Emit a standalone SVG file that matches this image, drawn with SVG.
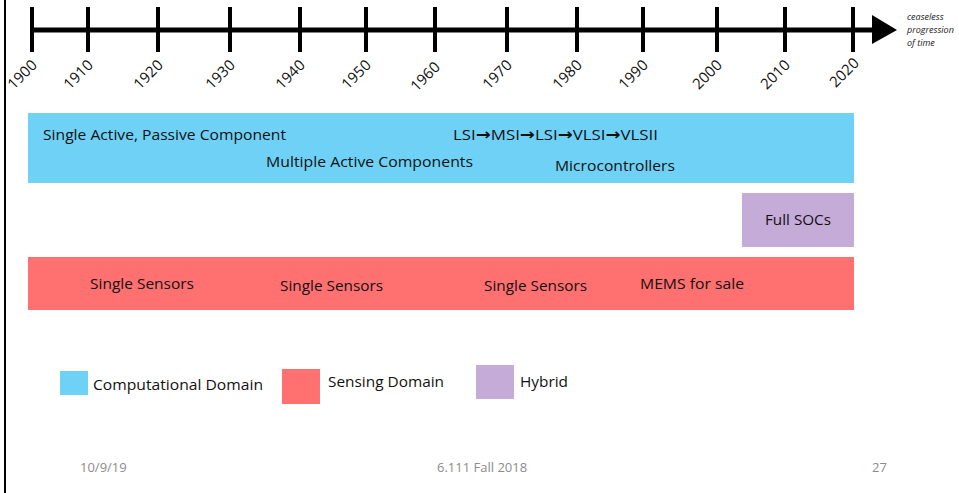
<svg xmlns="http://www.w3.org/2000/svg" width="959" height="493" viewBox="0 0 959 493">
<style>
.t{font-family:"Open Sans","Noto Sans","Liberation Sans",sans-serif;fill:#111;}
.lab{font-size:15px;}
.yr{font-size:15px;text-anchor:end;}
.ar{font-family:"DejaVu Sans",sans-serif;font-weight:bold;font-size:16px;}
.ft{font-family:"Open Sans","Noto Sans","Liberation Sans",sans-serif;font-size:13px;fill:#8c8c8c;}
.tick{stroke:#000;stroke-width:4;}
.it{font-family:"Open Sans","Noto Sans","Liberation Sans",sans-serif;font-size:9px;font-style:italic;fill:#222;}
</style>
<rect x="0" y="0" width="959" height="493" fill="#fff"/>
<line x1="5" y1="0" x2="5" y2="493" stroke="#000" stroke-width="2"/>
<g id="timeline">
<line x1="32" y1="30" x2="874" y2="30" stroke="#000" stroke-width="5"/>
<polygon points="872,15 897,30 872,44" fill="#000"/>
<line class="tick" x1="32" y1="7" x2="32" y2="52"/>
<line class="tick" x1="88" y1="7" x2="88" y2="52"/>
<line class="tick" x1="158" y1="7" x2="158" y2="52"/>
<line class="tick" x1="230" y1="7" x2="230" y2="52"/>
<line class="tick" x1="300" y1="7" x2="300" y2="52"/>
<line class="tick" x1="366" y1="7" x2="366" y2="52"/>
<line class="tick" x1="435" y1="7" x2="435" y2="52"/>
<line class="tick" x1="507" y1="7" x2="507" y2="52"/>
<line class="tick" x1="577" y1="7" x2="577" y2="52"/>
<line class="tick" x1="643" y1="7" x2="643" y2="52"/>
<line class="tick" x1="717" y1="7" x2="717" y2="52"/>
<line class="tick" x1="785" y1="7" x2="785" y2="52"/>
<line class="tick" x1="853" y1="7" x2="853" y2="52"/>
<text class="t yr" transform="translate(38,66) rotate(-45)">1900</text>
<text class="t yr" transform="translate(94,66) rotate(-45)">1910</text>
<text class="t yr" transform="translate(164,66) rotate(-45)">1920</text>
<text class="t yr" transform="translate(236,66) rotate(-45)">1930</text>
<text class="t yr" transform="translate(306,66) rotate(-45)">1940</text>
<text class="t yr" transform="translate(372,66) rotate(-45)">1950</text>
<text class="t yr" transform="translate(441,68) rotate(-45)">1960</text>
<text class="t yr" transform="translate(513,66) rotate(-45)">1970</text>
<text class="t yr" transform="translate(583,66) rotate(-45)">1980</text>
<text class="t yr" transform="translate(649,66) rotate(-45)">1990</text>
<text class="t yr" transform="translate(723,66) rotate(-45)">2000</text>
<text class="t yr" transform="translate(791,66) rotate(-45)">2010</text>
<text class="t yr" transform="translate(860,64) rotate(-45)">2020</text>
<text class="it" x="907" y="20">ceaseless</text>
<text class="it" x="907" y="33">progression</text>
<text class="it" x="907" y="46">of time</text>
</g>
<g id="computational">
<rect x="28" y="113" width="826" height="70" fill="#6fd1f6"/>
<text class="t lab" x="43" y="140" textLength="243" lengthAdjust="spacingAndGlyphs">Single Active, Passive Component</text>
<text class="t lab" x="266" y="167" textLength="207" lengthAdjust="spacingAndGlyphs">Multiple Active Components</text>
<text class="t lab" x="453" y="140" textLength="205" lengthAdjust="spacingAndGlyphs">LSI<tspan class="ar">→</tspan>MSI<tspan class="ar">→</tspan>LSI<tspan class="ar">→</tspan>VLSI<tspan class="ar">→</tspan>VLSII</text>
<text class="t lab" x="555" y="171" textLength="120" lengthAdjust="spacingAndGlyphs">Microcontrollers</text>
</g>
<g id="hybrid">
<rect x="742" y="193" width="112" height="54" fill="#c5abd8"/>
<text class="t lab" x="765" y="225" textLength="66" lengthAdjust="spacingAndGlyphs">Full SOCs</text>
</g>
<g id="sensing">
<rect x="28" y="257" width="826" height="53" fill="#ff7070"/>
<text class="t lab" x="90" y="289" textLength="104" lengthAdjust="spacingAndGlyphs">Single Sensors</text>
<text class="t lab" x="280" y="291" textLength="103" lengthAdjust="spacingAndGlyphs">Single Sensors</text>
<text class="t lab" x="484" y="291" textLength="103" lengthAdjust="spacingAndGlyphs">Single Sensors</text>
<text class="t lab" x="640" y="289" textLength="104" lengthAdjust="spacingAndGlyphs">MEMS for sale</text>
</g>
<g id="legend">
<rect x="60" y="371" width="28" height="24" fill="#6fd1f6"/>
<text class="t lab" x="93" y="390" textLength="170" lengthAdjust="spacingAndGlyphs">Computational Domain</text>
<rect x="282" y="369" width="38" height="35" fill="#ff7070"/>
<text class="t lab" x="328" y="387" textLength="116" lengthAdjust="spacingAndGlyphs">Sensing Domain</text>
<rect x="476" y="365" width="38" height="34" fill="#c5abd8"/>
<text class="t lab" x="520" y="387" textLength="48" lengthAdjust="spacingAndGlyphs">Hybrid</text>
</g>
<g id="footer">
<text class="ft" x="80" y="472">10/9/19</text>
<text class="ft" x="437" y="472">6.111 Fall 2018</text>
<text class="ft" x="872" y="472">27</text>
</g>
</svg>
